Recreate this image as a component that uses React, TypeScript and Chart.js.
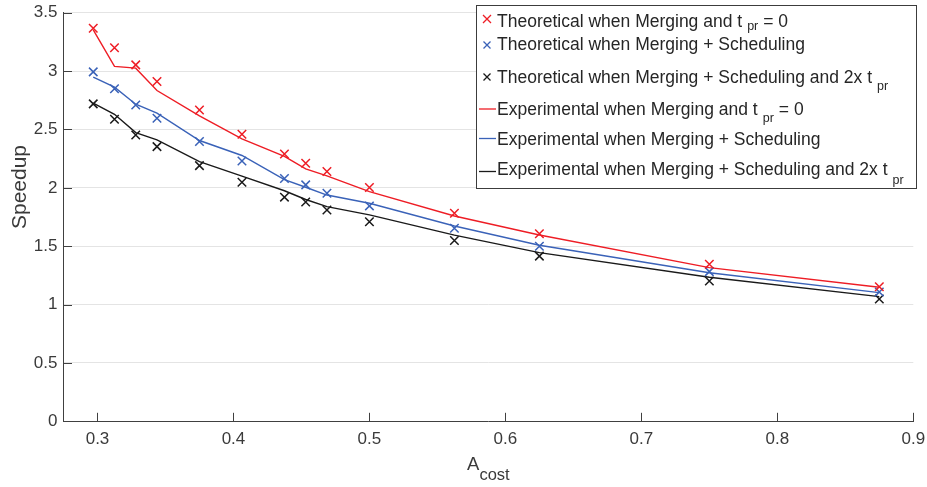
import React, { useEffect, useRef } from 'react';
import { Chart, registerables } from 'chart.js';
Chart.register(...registerables);

const aCost = [0.296875, 0.3125, 0.328125, 0.34375, 0.375, 0.40625, 0.4375, 0.453125, 0.46875, 0.5, 0.5625, 0.625, 0.75, 0.875];
const theoMerge = [3.367, 3.2, 3.053, 2.91, 2.667, 2.459, 2.29, 2.21, 2.139, 2.002, 1.782, 1.607, 1.345, 1.153];
const theoSched = [2.993, 2.848, 2.71, 2.596, 2.396, 2.23, 2.08, 2.025, 1.954, 1.845, 1.654, 1.5, 1.282, 1.108];
const theoSched2x = [2.719, 2.588, 2.453, 2.353, 2.19, 2.047, 1.92, 1.879, 1.81, 1.71, 1.548, 1.415, 1.202, 1.048];
const expMerge = [3.353, 3.04, 3.025, 2.833, 2.616, 2.42, 2.27, 2.162, 2.102, 1.967, 1.759, 1.596, 1.316, 1.148];
const expSched = [2.948, 2.862, 2.716, 2.64, 2.405, 2.277, 2.07, 2.005, 1.938, 1.868, 1.673, 1.508, 1.273, 1.102];
const expSched2x = [2.725, 2.63, 2.473, 2.41, 2.225, 2.1, 1.975, 1.9, 1.839, 1.768, 1.595, 1.445, 1.234, 1.068];

const xTicks = [0.3, 0.4, 0.5, 0.6, 0.7, 0.8, 0.9];
const yTicks = [0, 0.5, 1, 1.5, 2, 2.5, 3, 3.5];

const legendEntries = [
  { main: 'Theoretical when Merging and t', sub: 'pr', after: '= 0', kind: 'marker', color: '#ee1d25' },
  { main: 'Theoretical when Merging + Scheduling', sub: '', after: '', kind: 'marker', color: '#3a62b8' },
  { main: 'Theoretical when Merging + Scheduling and 2x t', sub: 'pr', after: '', kind: 'marker', color: '#1a1a1a' },
  { main: 'Experimental when Merging and t', sub: 'pr', after: '= 0', kind: 'line', color: '#ee1d25' },
  { main: 'Experimental when Merging + Scheduling', sub: '', after: '', kind: 'line', color: '#3a62b8' },
  { main: 'Experimental when Merging + Scheduling and 2x t', sub: 'pr', after: '', kind: 'line', color: '#1a1a1a' },
];

const FONT = '"Liberation Sans", Arial, Helvetica, sans-serif';
const AXIS = '#404040';
const TEXT = '#3a3a3a';

const pts = (ys: number[]) => aCost.map((x, i) => ({ x, y: ys[i] }));

export default function App() {
  const ref = useRef<HTMLCanvasElement>(null);
  useEffect(() => {
    const canvas = ref.current;
    if (!canvas) return;
    const overlay = {
      id: 'overlay',
      afterDraw(chart: any) {
        const ctx = chart.ctx;
        const xs = chart.scales.x;
        const ys = chart.scales.y;
        const ca = chart.chartArea;
        ctx.save();
        // inward tick marks
        ctx.strokeStyle = AXIS;
        ctx.lineWidth = 1;
        ctx.beginPath();
        xTicks.forEach((v) => {
          const px = Math.round(xs.getPixelForValue(v)) + 0.5;
          ctx.moveTo(px, ca.bottom);
          ctx.lineTo(px, ca.bottom - 8.5);
        });
        yTicks.forEach((v) => {
          const py = Math.round(ys.getPixelForValue(v)) + 0.5;
          ctx.moveTo(ca.left, py);
          ctx.lineTo(ca.left + 8.5, py);
        });
        ctx.stroke();

        // x title A_cost
        ctx.fillStyle = TEXT;
        ctx.textBaseline = 'alphabetic';
        ctx.textAlign = 'left';
        ctx.font = `18.5px ${FONT}`;
        const aW = ctx.measureText('A').width;
        ctx.font = `16.5px ${FONT}`;
        const cW = ctx.measureText('cost').width;
        const cx = (ca.left + ca.right) / 2;
        const startX = cx - (aW + cW) / 2;
        ctx.font = `18.5px ${FONT}`;
        ctx.fillText('A', startX, 470);
        ctx.font = `16.5px ${FONT}`;
        ctx.fillText('cost', startX + aW, 480);

        // y title
        ctx.save();
        ctx.translate(25.5, 187);
        ctx.rotate(-Math.PI / 2);
        ctx.textAlign = 'center';
        ctx.font = `21px ${FONT}`;
        ctx.fillText('Speedup', 0, 0);
        ctx.restore();

        // legend
        const bx = 476.5, by = 5.5, bw = 440, bh = 183;
        ctx.fillStyle = '#ffffff';
        ctx.fillRect(bx, by, bw, bh);
        ctx.strokeStyle = '#3c3c3c';
        ctx.lineWidth = 1;
        ctx.strokeRect(bx, by, bw, bh);
        const baselines = [26.7, 50, 82.7, 115, 145, 175];
        const subBase = [29.5, 0, 90, 122, 0, 184];
        const symY = [19, 45, 77, 109, 138.5, 171.5];
        const symHalf = [4, 3.5, 3.5];
        legendEntries.forEach((e, i) => {
          ctx.strokeStyle = e.color;
          ctx.lineWidth = 1.3;
          ctx.beginPath();
          if (e.kind === 'marker') {
            const h = symHalf[i];
            ctx.moveTo(487 - h, symY[i] - h);
            ctx.lineTo(487 + h, symY[i] + h);
            ctx.moveTo(487 - h, symY[i] + h);
            ctx.lineTo(487 + h, symY[i] - h);
          } else {
            ctx.moveTo(479, symY[i]);
            ctx.lineTo(496, symY[i]);
          }
          ctx.stroke();
          ctx.fillStyle = '#262626';
          ctx.textAlign = 'left';
          ctx.font = `17.5px ${FONT}`;
          let x = 497;
          ctx.fillText(e.main, x, baselines[i]);
          x += ctx.measureText(e.main).width;
          if (e.sub) {
            x += 5;
            ctx.font = `12.5px ${FONT}`;
            ctx.fillText(e.sub, x, subBase[i]);
            x += ctx.measureText(e.sub).width + 5;
            ctx.font = `17.5px ${FONT}`;
            if (e.after) ctx.fillText(e.after, x, baselines[i]);
          }
        });
        ctx.restore();
      },
    };

    const markerDs = (label: string, ys: number[], color: string) => ({
      label,
      data: pts(ys),
      showLine: false,
      pointStyle: 'crossRot',
      pointRadius: 6,
      pointBorderWidth: 1.5,
      borderColor: color,
      backgroundColor: color,
    });
    const lineDs = (label: string, ys: number[], color: string) => ({
      label,
      data: pts(ys),
      showLine: true,
      pointRadius: 0,
      borderWidth: 1.4,
      borderColor: color,
      backgroundColor: color,
      tension: 0,
    });

    const chart = new Chart(canvas, {
      type: 'scatter',
      data: {
        datasets: [
          markerDs('Theoretical when Merging and t pr = 0', theoMerge, '#ee1d25'),
          markerDs('Theoretical when Merging + Scheduling', theoSched, '#3a62b8'),
          markerDs('Theoretical when Merging + Scheduling and 2x t pr', theoSched2x, '#1a1a1a'),
          lineDs('Experimental when Merging and t pr = 0', expMerge, '#ee1d25'),
          lineDs('Experimental when Merging + Scheduling', expSched, '#3a62b8'),
          lineDs('Experimental when Merging + Scheduling and 2x t pr', expSched2x, '#1a1a1a'),
        ] as any,
      },
      options: {
        animation: false,
        responsive: false,
        devicePixelRatio: 1,
        layout: { padding: { left: 0, right: 13.7, top: 12.7, bottom: 0 } },
        plugins: { legend: { display: false }, tooltip: { enabled: false } },
        scales: {
          x: {
            type: 'linear',
            min: 0.275,
            max: 0.9,
            afterBuildTicks: (s: any) => { s.ticks = xTicks.map((v) => ({ value: v })); },
            afterFit: (s: any) => { s.height = 65.7; s.paddingLeft = 0; s.paddingRight = 0; },
            grid: { display: false, drawTicks: false },
            border: { display: true, color: AXIS, width: 1 },
            ticks: {
              color: TEXT,
              font: { family: FONT, size: 17 },
              padding: 8,
              maxRotation: 0,
              autoSkip: false,
              callback: (v: any) => Number(v).toFixed(1),
            },
          },
          y: {
            type: 'linear',
            min: 0,
            max: 3.5,
            afterBuildTicks: (s: any) => { s.ticks = yTicks.map((v) => ({ value: v })); },
            afterFit: (s: any) => { s.width = 63.5; s.paddingTop = 0; s.paddingBottom = 0; },
            grid: { color: '#e4e4e4', lineWidth: 1, drawTicks: false },
            border: { display: true, color: AXIS, width: 1 },
            ticks: {
              color: TEXT,
              font: { family: FONT, size: 17 },
              padding: 6,
              autoSkip: false,
              callback: (v: any) => String(Number(v)),
            },
          },
        },
      } as any,
      plugins: [overlay],
    });
    return () => chart.destroy();
  }, []);
  return (
    <div style={{ position: 'fixed', left: 0, top: 0, width: 927, height: 487, background: '#fff' }}>
      <canvas ref={ref} width={927} height={487} style={{ display: 'block', width: 927, height: 487 }} />
    </div>
  );
}
